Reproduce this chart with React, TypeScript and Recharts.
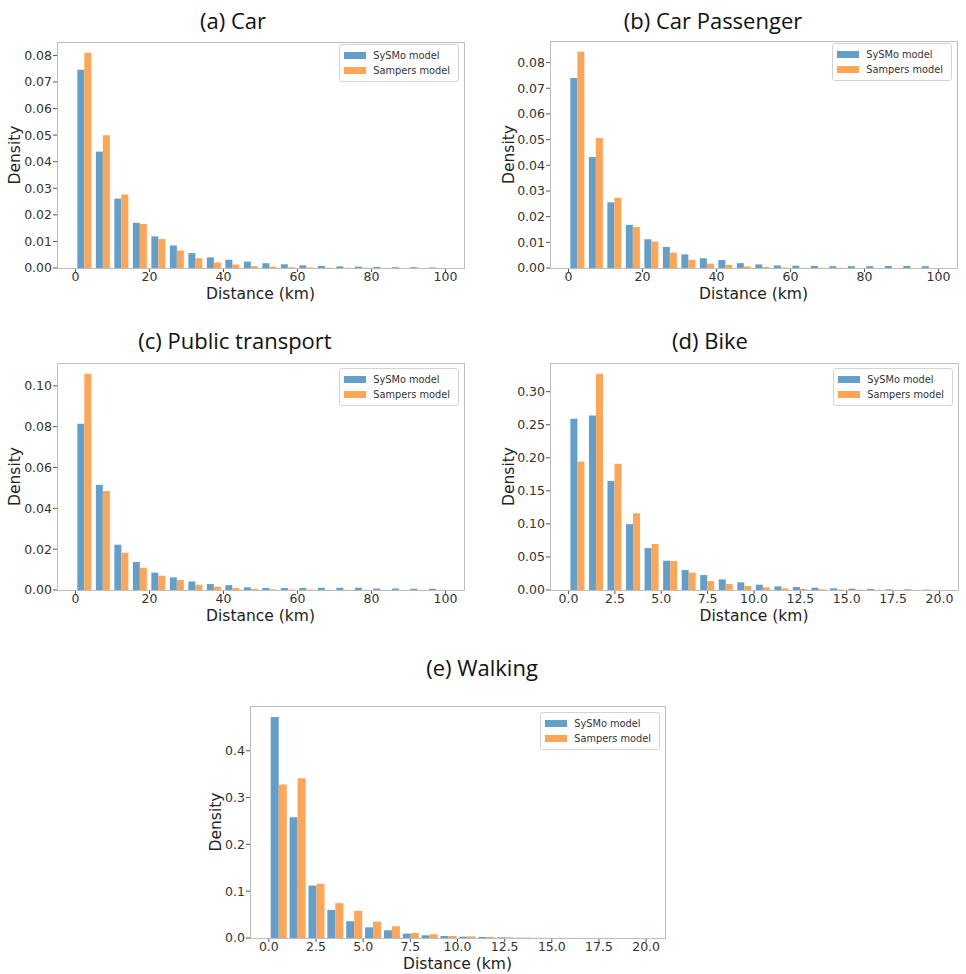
import React from 'react';
import { BarChart, Bar, XAxis, YAxis, Legend } from 'recharts';

// bin centres (km) of the two histogram layouts
const binsTo100 = [2.5, 7.5, 12.5, 17.5, 22.5, 27.5, 32.5, 37.5, 42.5, 47.5, 52.5, 57.5, 62.5, 67.5, 72.5, 77.5, 82.5, 87.5, 92.5, 97.5];
const binsTo20 = [0.5, 1.5, 2.5, 3.5, 4.5, 5.5, 6.5, 7.5, 8.5, 9.5, 10.5, 11.5, 12.5, 13.5, 14.5, 15.5, 16.5, 17.5, 18.5, 19.5];

// densities
const carSysmo = [0.0746, 0.0438, 0.0261, 0.017, 0.0119, 0.0085, 0.0056, 0.004, 0.0031, 0.0024, 0.0018, 0.0014, 0.001, 0.0008, 0.0006, 0.0005, 0.0004, 0.0003, 0.0003, 0.0002];
const carSampers = [0.081, 0.05, 0.0277, 0.0166, 0.0109, 0.0066, 0.0037, 0.0021, 0.0013, 0.0007, 0.0005, 0.0003, 0.0002, 0.0001, 0.0001, 0.0001, 0, 0, 0, 0];
const passSysmo = [0.074, 0.0432, 0.0256, 0.0168, 0.0112, 0.0082, 0.0053, 0.0038, 0.0031, 0.0019, 0.0014, 0.001, 0.0009, 0.0008, 0.0007, 0.0007, 0.0007, 0.0008, 0.0008, 0.0007];
const passSampers = [0.0842, 0.0506, 0.0274, 0.016, 0.0103, 0.006, 0.0032, 0.0017, 0.0012, 0.0006, 0.0004, 0.0002, 0.0001, 0.0001, 0.0001, 0, 0, 0, 0, 0];
const ptSysmo = [0.0814, 0.0515, 0.0222, 0.0137, 0.0085, 0.0062, 0.0042, 0.0029, 0.0024, 0.0013, 0.001, 0.001, 0.001, 0.0011, 0.0011, 0.0011, 0.0007, 0.0007, 0.0006, 0.0006];
const ptSampers = [0.1059, 0.0485, 0.0183, 0.0109, 0.007, 0.0049, 0.0026, 0.0016, 0.001, 0.0005, 0.0003, 0.0002, 0.0002, 0.0001, 0.0001, 0.0001, 0, 0, 0, 0];
const bikeSysmo = [0.259, 0.264, 0.165, 0.0996, 0.0634, 0.0443, 0.0302, 0.0226, 0.0161, 0.0116, 0.0081, 0.0055, 0.0045, 0.0035, 0.0025, 0.002, 0.0015, 0.001, 0.001, 0.0005];
const bikeSampers = [0.194, 0.327, 0.191, 0.116, 0.0695, 0.0438, 0.0262, 0.0136, 0.0091, 0.006, 0.004, 0.0025, 0.0015, 0.001, 0.0007, 0.0005, 0.0003, 0.0002, 0.0002, 0.0001];
const walkSysmo = [0.472, 0.258, 0.112, 0.0601, 0.0358, 0.0229, 0.0165, 0.0093, 0.0057, 0.0043, 0.0029, 0.0021, 0.0014, 0.0007, 0.0004, 0.0003, 0.0002, 0.0001, 0.0001, 0.0001];
const walkSampers = [0.328, 0.341, 0.116, 0.0744, 0.058, 0.0351, 0.0251, 0.0107, 0.0079, 0.0043, 0.0036, 0.0021, 0.0014, 0.0007, 0.0003, 0.0002, 0.0001, 0.0001, 0, 0];

// tick labels
const xTicks100 = [0, 20, 40, 60, 80, 100];
const xTicks20 = [0, 2.5, 5, 7.5, 10, 12.5, 15, 17.5, 20];
const yTicksCar = [0, 0.01, 0.02, 0.03, 0.04, 0.05, 0.06, 0.07, 0.08];
const yTicksPt = [0, 0.02, 0.04, 0.06, 0.08, 0.1];
const yTicksBike = [0, 0.05, 0.1, 0.15, 0.2, 0.25, 0.3];
const yTicksWalk = [0, 0.1, 0.2, 0.3, 0.4];

const SYSMO = '#62a0cb';
const SAMPERS = '#ffa556';
const PAD_L = 60;
const PAD_T = 12;
const PAD_R = 8;
const PAD_B = 34;

type Frame = { l: number; t: number; r: number; b: number };

const LegendBox = () => (
  <div
    style={{
      background: '#fff',
      border: '1px solid #d4d4d4',
      borderRadius: 3,
      padding: '3px 8px 3px 4px',
      fontSize: 9.8,
      color: '#333',
      fontFamily: 'DejaVu Sans',
    }}
  >
    {[
      { label: 'SySMo model', color: SYSMO },
      { label: 'Sampers model', color: SAMPERS },
    ].map((it) => (
      <div key={it.label} style={{ display: 'flex', alignItems: 'center', height: 15 }}>
        <span style={{ width: 22, height: 7, background: it.color, marginRight: 7 }} />
        <span>{it.label}</span>
      </div>
    ))}
  </div>
);

interface PanelProps {
  title: string;
  titleX: number;
  titleBase: number;
  frame: Frame;
  bins: number[];
  sysmo: number[];
  sampers: number[];
  xDomain: [number, number];
  xTicks: number[];
  xDigits: number;
  yTicks: number[];
  yDigits: number;
  yLabelGap: number;
  legendTop: number;
}

const Panel: React.FC<PanelProps> = (p) => {
  const data = p.bins.map((d, i) => ({ dist: d, sysmo: p.sysmo[i], sampers: p.sampers[i] }));
  const w = p.frame.r - p.frame.l;
  const h = p.frame.b - p.frame.t;
  const tickStyle = { fontSize: 12.5, fill: '#333', fontFamily: 'DejaVu Sans' };
  return (
    <>
      <div
        style={{
          position: 'absolute',
          left: p.titleX - 200,
          width: 400,
          top: p.titleBase - 19.5,
          textAlign: 'center',
          fontFamily: 'Open Sans',
          fontSize: 22,
          lineHeight: 1,
          color: '#111',
        }}
      >
        {p.title}
      </div>
      <div style={{ position: 'absolute', left: p.frame.l - PAD_L, top: p.frame.t - PAD_T }}>
        <BarChart
          width={w + PAD_L + PAD_R}
          height={h + PAD_T + PAD_B}
          data={data}
          margin={{ top: PAD_T, right: PAD_R, bottom: 0, left: 0 }}
          barCategoryGap="10%"
          barGap={0}
        >
          <XAxis
            dataKey="dist"
            type="number"
            domain={p.xDomain}
            ticks={p.xTicks}
            tickFormatter={(v: number) => (p.xDigits ? v.toFixed(p.xDigits) : String(v))}
            height={PAD_B}
            axisLine={false}
            tickSize={4}
            tickMargin={0}
            tickLine={{ stroke: '#555' }}
            tick={tickStyle}
            interval={0}
            label={{
              value: 'Distance (km)',
              position: 'insideBottom',
              offset: 3,
              style: { fontSize: 15.5, fill: '#222', fontFamily: 'DejaVu Sans' },
            }}
          />
          <YAxis
            width={PAD_L}
            domain={[0, (m: number) => m * 1.05]}
            ticks={p.yTicks}
            tickFormatter={(v: number) => v.toFixed(p.yDigits)}
            axisLine={false}
            tickSize={4}
            tickMargin={1}
            tickLine={{ stroke: '#555' }}
            tick={tickStyle}
            interval={0}
            label={{
              value: 'Density',
              angle: -90,
              position: 'insideLeft',
              offset: PAD_L - p.yLabelGap,
              style: { fontSize: 15.5, fill: '#222', fontFamily: 'DejaVu Sans', textAnchor: 'middle' },
            }}
          />
          <Legend
            layout="vertical"
            align="center"
            verticalAlign="middle"
            wrapperStyle={{ top: PAD_T + p.legendTop, right: PAD_R + 5, width: 'auto' }}
            content={<LegendBox />}
          />
          <Bar dataKey="sysmo" name="SySMo model" fill={SYSMO} isAnimationActive={false} />
          <Bar dataKey="sampers" name="Sampers model" fill={SAMPERS} isAnimationActive={false} />
        </BarChart>
        <div
          style={{
            position: 'absolute',
            left: PAD_L,
            top: PAD_T,
            width: w + 1,
            height: h + 1,
            border: '1px solid #bdbdbd',
            boxSizing: 'border-box',
            pointerEvents: 'none',
          }}
        />
      </div>
    </>
  );
};

export default function App() {
  return (
    <div
      style={{
        position: 'absolute',
        left: 0,
        top: 0,
        width: 966,
        height: 974,
        background: '#fff',
        fontFamily: 'DejaVu Sans',
      }}
    >
      <Panel
        title="(a) Car"
        titleX={233}
        titleBase={28}
        frame={{ l: 57, t: 42, r: 464, b: 268 }}
        bins={binsTo100}
        sysmo={carSysmo}
        sampers={carSampers}
        xDomain={[-5, 105]}
        xTicks={xTicks100}
        xDigits={0}
        yTicks={yTicksCar}
        yDigits={2}
        yLabelGap={43}
        legendTop={2}
      />
      <Panel
        title="(b) Car Passenger"
        titleX={713}
        titleBase={28}
        frame={{ l: 550, t: 41, r: 957, b: 268 }}
        bins={binsTo100}
        sysmo={passSysmo}
        sampers={passSampers}
        xDomain={[-5, 105]}
        xTicks={xTicks100}
        xDigits={0}
        yTicks={yTicksCar}
        yDigits={2}
        yLabelGap={42}
        legendTop={2}
      />
      <Panel
        title="(c) Public transport"
        titleX={235}
        titleBase={348}
        frame={{ l: 57, t: 363, r: 464, b: 590 }}
        bins={binsTo100}
        sysmo={ptSysmo}
        sampers={ptSampers}
        xDomain={[-5, 105]}
        xTicks={xTicks100}
        xDigits={0}
        yTicks={yTicksPt}
        yDigits={2}
        yLabelGap={43}
        legendTop={5}
      />
      <Panel
        title="(d) Bike"
        titleX={710}
        titleBase={348}
        frame={{ l: 550, t: 363, r: 958, b: 590 }}
        bins={binsTo20}
        sysmo={bikeSysmo}
        sampers={bikeSampers}
        xDomain={[-1, 21]}
        xTicks={xTicks20}
        xDigits={1}
        yTicks={yTicksBike}
        yDigits={2}
        yLabelGap={42}
        legendTop={5}
      />
      <Panel
        title="(e) Walking"
        titleX={482}
        titleBase={675}
        frame={{ l: 250, t: 706, r: 665, b: 938 }}
        bins={binsTo20}
        sysmo={walkSysmo}
        sampers={walkSampers}
        xDomain={[-1, 21]}
        xTicks={xTicks20}
        xDigits={1}
        yTicks={yTicksWalk}
        yDigits={1}
        yLabelGap={34.5}
        legendTop={6}
      />
    </div>
  );
}
